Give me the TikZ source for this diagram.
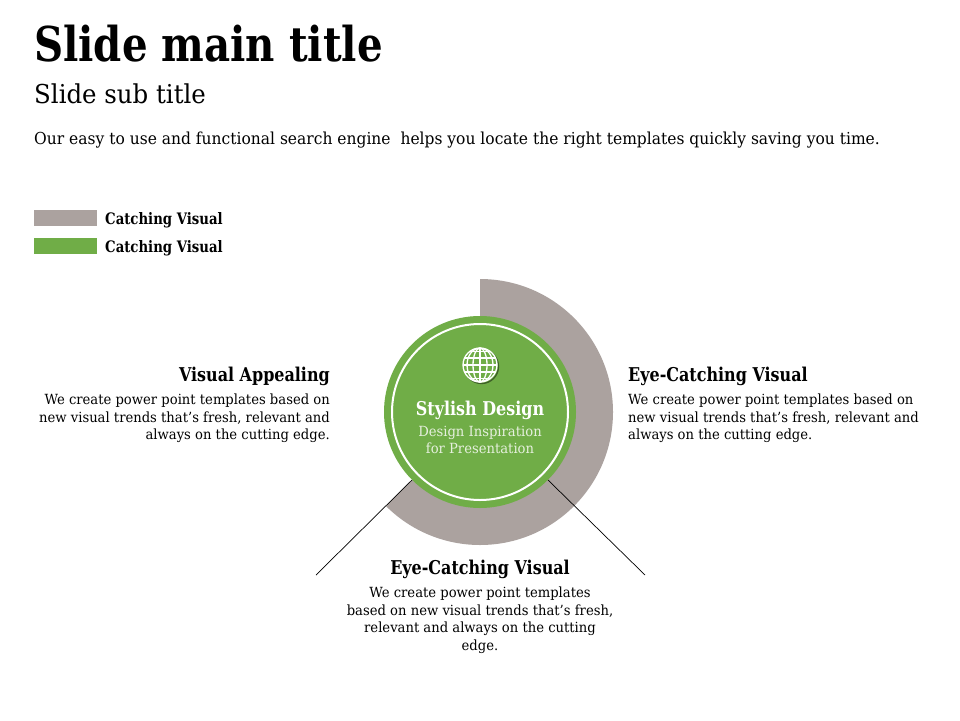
\documentclass[tikz,border=0pt]{standalone}
\usepackage{fontspec}
\setmainfont{DejaVu Serif}[FakeStretch=0.94, BoldFeatures={FakeStretch=0.84}]
\definecolor{ringgray}{HTML}{ABA29F}
\definecolor{leafgreen}{HTML}{70AD47}
\definecolor{palegreen}{HTML}{E6F0DE}
\begin{document}
\begin{tikzpicture}[x=1pt,y=-1pt,
  heading/.style={inner sep=0pt,font=\fontsize{19}{22}\selectfont\bfseries},
  bodytext/.style={inner sep=0pt,font=\fontsize{14}{17.5}\selectfont},
  legendtext/.style={inner sep=0pt,anchor=base west,font=\fontsize{15.8}{18}\selectfont\bfseries},
  connector/.style={draw=black,line width=0.7pt}]
\useasboundingbox[fill=white] (0,0) rectangle (960,720);
% titles
\node[inner sep=0pt,anchor=base west,font=\fontsize{48}{56}\selectfont\bfseries] (title) at (34,61) {Slide main title};
\node[inner sep=0pt,anchor=base west,font=\fontsize{26}{30}\selectfont] (subtitle) at (34,103) {Slide sub title};
\node[inner sep=0pt,anchor=base west,font=\fontsize{16.5}{20}\selectfont] (intro) at (34,144) {Our easy to use and functional search engine\ \ helps you locate the right templates quickly saving you time.};
% legend
\fill[ringgray] (34,210) rectangle (97,226);
\fill[leafgreen] (34,238) rectangle (97,254);
\node[legendtext] (leg1) at (105,224) {Catching Visual};
\node[legendtext] (leg2) at (105,252) {Catching Visual};
% ring
\coordinate (c) at (480,412);
\fill[ringgray] (c) -- ++(90:-133) arc[start angle=-90, end angle=135, radius=133] -- cycle;
\node[circle,fill=leafgreen,minimum size=192pt,inner sep=0pt] (hub) at (c) {};
\draw[white,line width=2pt] (c) circle[radius=88];
% connectors
\coordinate (bl) at (316,575);
\coordinate (br) at (645,575);
\draw[connector] (hub.225) -- (bl);
\draw[connector] (hub.-45) -- (br);
% globe
\begin{scope}[shift={(481.5,366.5)},black!45!leafgreen,line width=1.3pt]
\draw (0,0) circle[radius=17];
\end{scope}
\begin{scope}[shift={(480,365)},white,line width=1.3pt]
\fill[leafgreen] (0,0) circle[radius=17];
\draw (0,0) circle[radius=17];
\draw (0,-17) -- (0,17);
\draw (0,0) ellipse[x radius=7,y radius=17];
\draw (0,0) ellipse[x radius=13,y radius=17];
\draw (-17,0) -- (17,0);
\draw (-15.5,-7) -- (15.5,-7);
\draw (-15.5,7) -- (15.5,7);
\draw (-10,-13.5) -- (10,-13.5);
\draw (-10,13.5) -- (10,13.5);
\end{scope}
% center text
\node[inner sep=0pt,anchor=base,text=white,font=\fontsize{19}{22}\selectfont\bfseries] (hubtitle) at (480,415) {Stylish Design};
\node[inner sep=0pt,anchor=north,align=center,text=palegreen,font=\fontsize{14}{17}\selectfont] (hubsub) at (480,426) {Design Inspiration\\for Presentation};
% left block
\node[heading,anchor=base east] (lh) at (330,381) {Visual Appealing};
\node[bodytext,anchor=north east,align=right] (lb) at (330,394) {We create power point templates based on\\new visual trends that's fresh, relevant and\\always on the cutting edge.};
% right block
\node[heading,anchor=base west] (rh) at (628,381) {Eye-Catching Visual};
\node[bodytext,anchor=north west,align=left] (rb) at (628,394) {We create power point templates based on\\new visual trends that's fresh, relevant and\\always on the cutting edge.};
% bottom block
\node[heading,anchor=base] (bh) at (480,574) {Eye-Catching Visual};
\node[bodytext,anchor=north,align=center] (bb) at (480,587) {We create power point templates\\based on new visual trends that's fresh,\\relevant and always on the cutting\\edge.};
\end{tikzpicture}
\end{document}
